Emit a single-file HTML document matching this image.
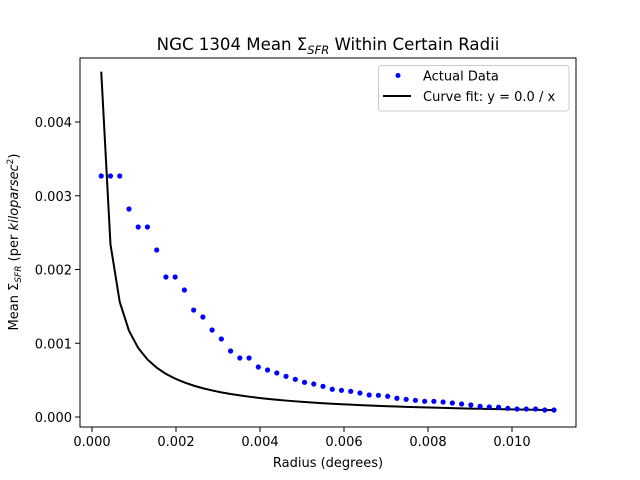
<!DOCTYPE html>
<html><head><meta charset="utf-8"><style>
html,body{margin:0;padding:0;background:#fff;}
svg{display:block;font-family:"DejaVu Sans","Liberation Sans",sans-serif;}
</style></head><body>
<svg id="chart" width="640" height="480" viewBox="0 0 640 480" xmlns="http://www.w3.org/2000/svg">
<rect x="0" y="0" width="640" height="480" fill="#fff"/>
<g id="plot"></g>
<rect x="80" y="58" width="496" height="369" fill="none" stroke="#000" stroke-width="1"/>
<text x="328" y="50" font-size="16.6" text-anchor="middle">NGC 1304 Mean Σ<tspan font-size="11.5" dy="4" font-style="italic">SFR</tspan><tspan dy="-4"> Within Certain Radii</tspan></text>
<text x="328" y="467" font-size="13" text-anchor="middle">Radius (degrees)</text>
<text transform="translate(18,242) rotate(-90)" font-size="13" text-anchor="middle">Mean Σ<tspan font-size="9" dy="3" font-style="italic">SFR</tspan><tspan dy="-3"> (per </tspan><tspan font-style="italic">kiloparsec</tspan><tspan font-size="9" dy="-5">2</tspan><tspan dy="5">)</tspan></text>
<g>
<rect x="378.5" y="65.5" width="190.5" height="45.5" rx="3" fill="#fff" fill-opacity="0.8" stroke="#ccc"/>
<circle cx="398" cy="75.5" r="2.5" fill="#0000ff"/>
<text x="423" y="80.5" font-size="13">Actual Data</text>
<line x1="383" y1="96" x2="411" y2="96" stroke="#000" stroke-width="2"/>
<text x="423" y="101" font-size="13">Curve fit: y = 0.0 / x</text>
</g>
</svg>
<script>
const xStep = 0.00022;
const yValues = [0.003268,0.003268,0.003268,0.00282,0.002576,0.002576,0.002264,0.001898,0.001898,0.001722,0.00145,0.001356,0.00118,0.001058,0.000895,0.0008,0.0008,0.000678,0.000637,0.000597,0.000552,0.000511,0.00047,0.000447,0.000416,0.000376,0.000362,0.000348,0.000325,0.000298,0.000294,0.000281,0.000254,0.00024,0.000226,0.000213,0.000213,0.000203,0.00019,0.000176,0.000163,0.000145,0.000136,0.000132,0.000118,0.000108,0.000108,0.000108,0.000095,0.000095];
const fitK = 1.03e-6;
const xTicks = [0,0.002,0.004,0.006,0.008,0.010];
const xTickLabels = ["0.000","0.002","0.004","0.006","0.008","0.010"];
const yTicks = [0,0.001,0.002,0.003,0.004];
const yTickLabels = ["0.000","0.001","0.002","0.003","0.004"];

const NS = "http://www.w3.org/2000/svg";
const sx = v => 92 + v * 42000;
const sy = v => 417 - v * 73750;
const plot = document.getElementById('plot');
const svg = document.getElementById('chart');
function mk(tag, attrs, parent){const e=document.createElementNS(NS,tag);for(const k in attrs)e.setAttribute(k,attrs[k]);(parent||svg).appendChild(e);return e;}

xTicks.forEach((t,i)=>{
  const g = mk('g',{});
  
  
  mk('line',{x1:sx(t),x2:sx(t),y1:427,y2:432,stroke:'#000'},g);
  const tx = mk('text',{x:sx(t),y:446,'font-size':13,'text-anchor':'middle'},g);
  tx.textContent = xTickLabels[i];
});
yTicks.forEach((t,i)=>{
  const g = mk('g',{});
  
  
  mk('line',{x1:75,x2:80,y1:sy(t),y2:sy(t),stroke:'#000'},g);
  const tx = mk('text',{x:72,y:sy(t)+5,'font-size':13,'text-anchor':'end'},g);
  tx.textContent = yTickLabels[i];
});

const xs = yValues.map((_,i)=>(i+1)*xStep);
const pts = xs.map(x=>sx(x).toFixed(2)+','+sy(fitK/x).toFixed(2)).join(' ');
const line = mk('polyline',{points:pts,fill:'none',stroke:'#000','stroke-width':2},plot);



yValues.forEach((v,i)=>{
  const c = mk('circle',{cx:sx(xs[i]),cy:sy(v),r:2.6,fill:'#0000ff'},plot);
  
  
});
</script>
</body></html>
